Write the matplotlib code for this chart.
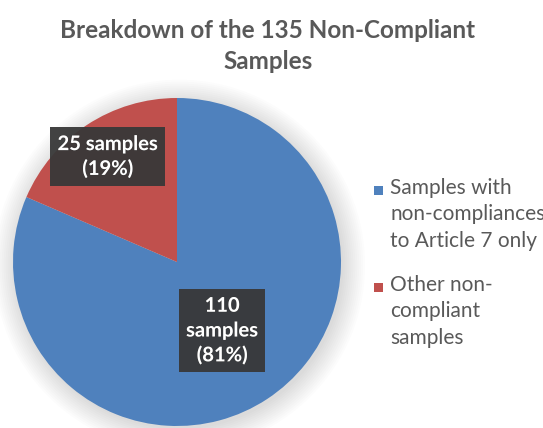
import numpy as np
import matplotlib
matplotlib.use("Agg")
import matplotlib.pyplot as plt
from matplotlib.patches import Circle, Rectangle
import matplotlib.patheffects as pe

# data
categories = ["Samples with\nnon-compliances\nto Article 7 only",
              "Other non-\ncompliant\nsamples"]
counts = [110, 25]
slice_labels = ["110\nsamples\n(81%)", "25 samples\n(19%)"]
colors = ["#4F81BD", "#C0504D"]
title = "Breakdown of the 135 Non-Compliant\nSamples"

plt.rcParams['font.family'] = ['Lato', 'DejaVu Sans']

W, H = 543, 428
fig = plt.figure(figsize=(W / 100, H / 100), dpi=100)
fig.patch.set_facecolor("white")

# pie axes placed in pixel space (center 177,262 radius 164)
cx, cy, r = 177, 262, 164
ax = fig.add_axes([(cx - r) / W, (H - cy - r) / H, 2 * r / W, 2 * r / H])

wedges, _ = ax.pie(counts, colors=colors, startangle=90, counterclock=False,
                   radius=1.0, wedgeprops=dict(linewidth=0))
for w in wedges:
    w.set_zorder(2)
ax.set_xlim(-1, 1)
ax.set_ylim(-1, 1)
ax.set_aspect("equal")
ax.axis("off")

# soft shadow behind the pie
for k in range(12):
    ax.add_patch(Circle((0.015, -0.02), 1.0 + 0.012 * k, color="black",
                        alpha=0.012, lw=0, zorder=0, clip_on=False))

# data labels in dark boxes
dists = [0.50, 0.77]
for w, lab, d in zip(wedges, slice_labels, dists):
    ang = np.deg2rad((w.theta1 + w.theta2) / 2)
    x, y = d * np.cos(ang), d * np.sin(ang)
    ax.text(x, y, lab, ha="center", va="center", color="white",
            fontsize=14.5, fontweight="bold", linespacing=1.3, zorder=5,
            bbox=dict(boxstyle="square,pad=0.35", fc="#383838", ec="none",
                      alpha=0.95),
            path_effects=[pe.withStroke(linewidth=0.5, foreground="#383838")])

# title
fig.text(268 / W, 1 - 46 / H, title, ha="center", va="center",
         fontsize=17.5, fontweight="bold", color="#595959", linespacing=1.4)

# legend (manual, text runs to the right edge as in reference)
leg_x = 374 / W
leg_y = [190, 287]
for col, cat, ly in zip(colors, categories, leg_y):
    fig.patches.append(Rectangle((leg_x, 1 - (ly + 5) / H), 9 / W, 9 / H,
                                 transform=fig.transFigure, fc=col, ec="none"))
    fig.text(leg_x + 16 / W, 1 - (ly - 12) / H, cat, ha="left", va="top",
             fontsize=15, color="#595959", linespacing=1.4)

fig.savefig("out.png", dpi=100, facecolor="white")
